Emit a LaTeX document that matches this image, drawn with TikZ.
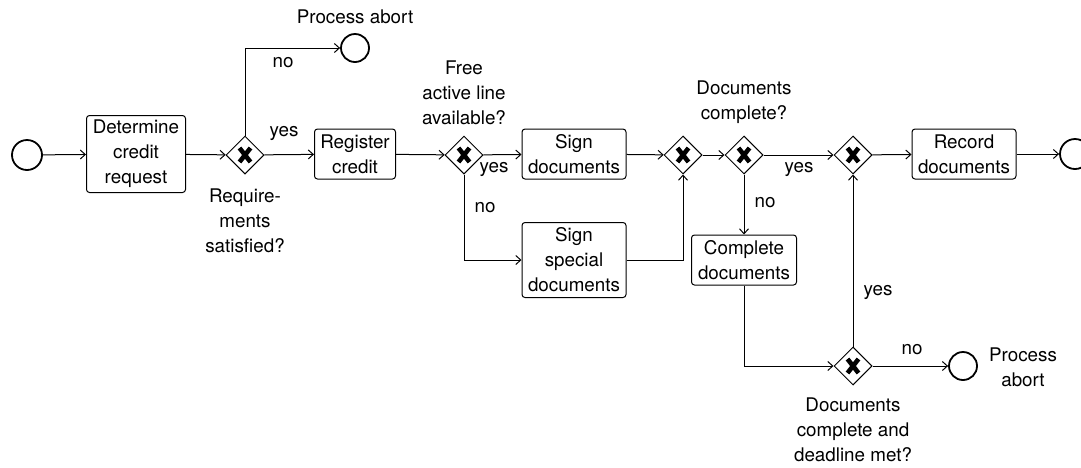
\documentclass[tikz,border=0pt]{standalone}
\usepackage{fontspec}
\setmainfont{TeX Gyre Heros}
\usetikzlibrary{shapes.geometric,arrows.meta,positioning}
\tikzset{
  task/.style={draw,rounded corners=3pt,line width=1pt,align=center,inner sep=0pt,
    minimum width=104pt,minimum height=50pt},
  gateway/.style={draw,diamond,line width=1pt,minimum size=38pt,inner sep=0pt,
    path picture={
      \draw[line width=4.6pt]
        ([shift={(-5.5pt,-7pt)}]path picture bounding box.center) --
        ([shift={(5.5pt,7pt)}]path picture bounding box.center);
      \draw[line width=4.6pt]
        ([shift={(-5.5pt,7pt)}]path picture bounding box.center) --
        ([shift={(5.5pt,-7pt)}]path picture bounding box.center);}},
  event/.style={draw,circle,line width=1.8pt,minimum size=30pt,inner sep=0pt},
  abort/.style={event,minimum size=28pt},
  flow/.style={line width=1pt,-{Straight Barb[length=5pt,width=9pt]}},
  note/.style={align=center,inner sep=0pt}
}
\begin{document}
\begin{tikzpicture}[x=1pt,y=-1pt,font=\fontsize{18.8}{25}\selectfont]
	\useasboundingbox (0,0) rectangle (1081,467);
	% events
	\node[event] (start) at (27,155) {};
	\node[event] (end) at (1075,154) {};
	\node[abort] (abort1) at (355,48) {};
	\node[abort] (abort2) at (963,366) {};
	% tasks
	\node[task,minimum width=99pt,minimum height=77pt] (determine) at (136,154) {Determine\\credit\\request};
	\node[task,minimum width=81pt] (register) at (355,154) {Register\\credit};
	\node[task] (sign) at (574,154) {Sign\\documents};
	\node[task,minimum height=75pt] (special) at (574,260) {Sign\\special\\documents};
	\node[task,minimum width=105pt] (complete) at (744,260) {Complete\\documents};
	\node[task] (record) at (964,154) {Record\\documents};
	% gateways
	\node[gateway] (req) at (245,155) {};
	\node[gateway] (free) at (464,155) {};
	\node[gateway] (merge) at (683,155) {};
	\node[gateway] (docs) at (744,155) {};
	\node[gateway] (join) at (853,155) {};
	\node[gateway] (deadline) at (853,366) {};
	% texts
	\node[note] (abort1 text) at (355,17) {Process abort};
	\node[note] (abort2 text) at (1023,367) {Process\\abort};
	\node[note] (req text) at (245,221) {Require-\\ments\\satisfied?};
	\node[note] (free text) at (464,93) {Free\\active line\\available?};
	\node[note] (docs text) at (744,102) {Documents\\complete?};
	\node[note] (deadline text) at (853,430) {Documents\\complete and\\deadline met?};
	% flows
	\draw[flow] (start) -- (determine);
	\draw[flow] (determine) -- (req);
	\draw[flow] (req.north) |- (abort1.west);
	\draw[flow] (req) -- (register);
	\draw[flow] (register) -- (free);
	\draw[flow] (free) -- (sign);
	\draw[flow] (free.south) |- (special.west);
	\draw[flow] (sign) -- (merge);
	\draw[flow] (special.east) -| (merge.south);
	\draw[flow] (merge) -- (docs);
	\draw[flow] (docs) -- (join);
	\draw[flow] (docs) -- (complete);
	\draw[flow] (complete.south) |- (deadline.west);
	\draw[flow] (deadline) -- (join);
	\draw[flow] (deadline) -- (abort2);
	\draw[flow] (join) -- (record);
	\draw[flow] (record) -- (end);
	% labels
	\node (no1) at (283,63) {no};
	\node (yes1) at (284,133) {yes};
	\node (yes2) at (494,169) {yes};
	\node (no2) at (485,208) {no};
	\node (yes3) at (799,169) {yes};
	\node (no3) at (765,203) {no};
	\node (yes4) at (878,292) {yes};
	\node (no4) at (912,350) {no};
\end{tikzpicture}
\end{document}
